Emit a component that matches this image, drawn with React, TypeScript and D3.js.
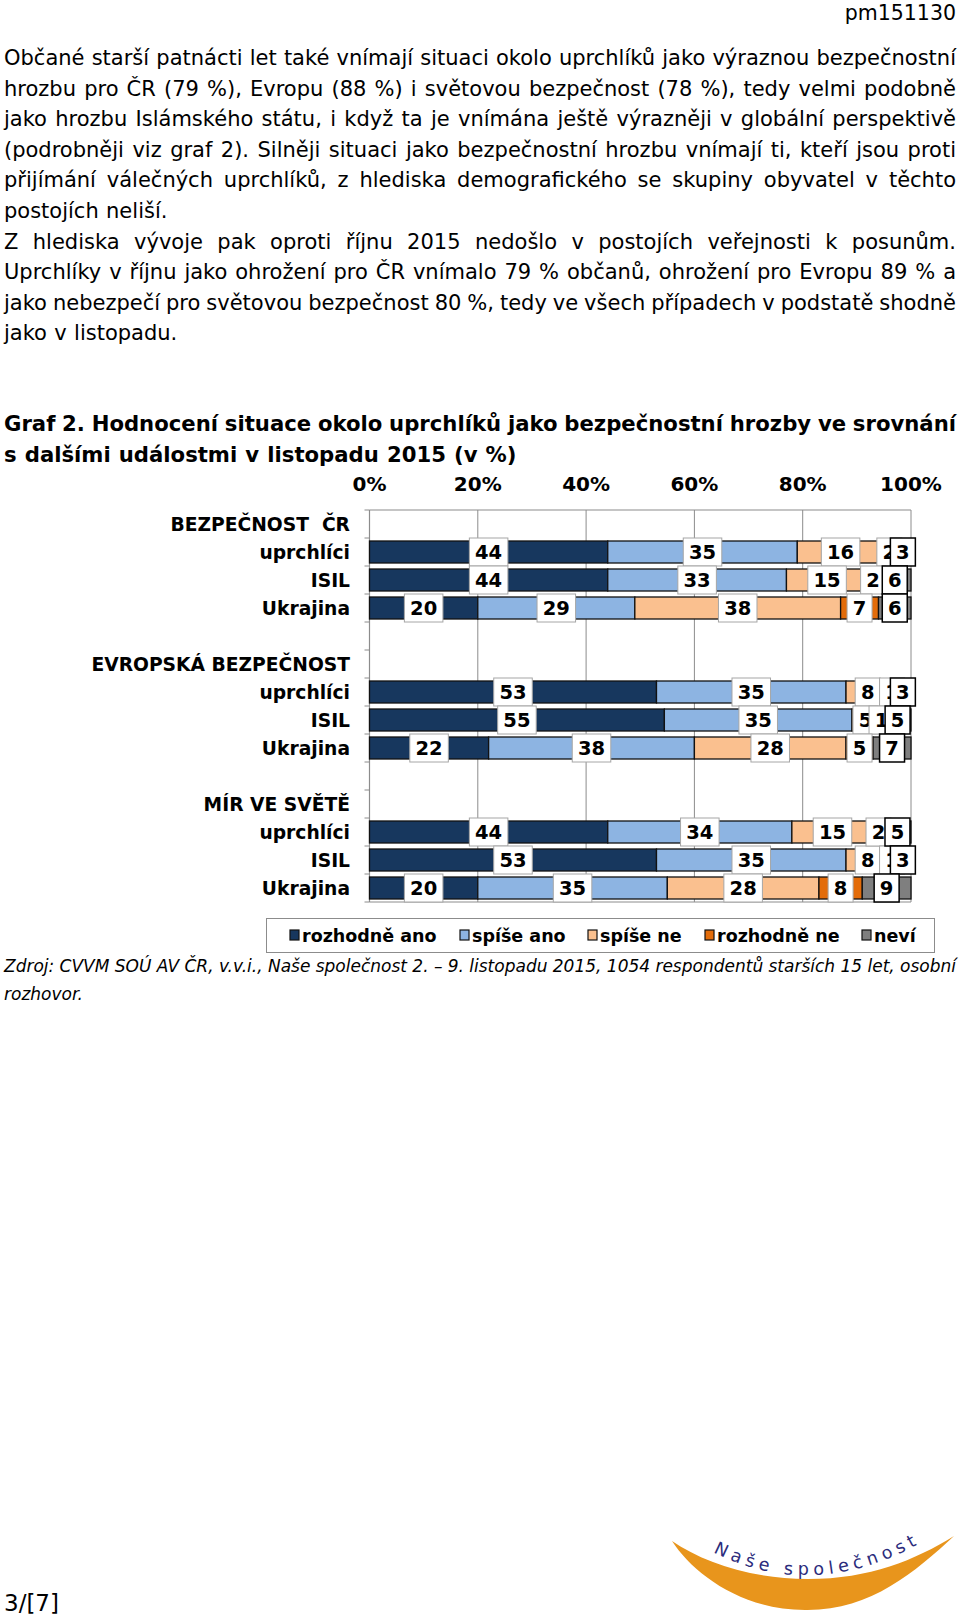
import React, { useMemo } from "react";
import * as d3 from "d3";

const W = 960;
const H = 1617;
const FONT = "'DejaVu Sans', Verdana, sans-serif";

const headerCode = "pm151130";
const paragraphLines = [
  "Občané starší patnácti let také vnímají situaci okolo uprchlíků jako výraznou bezpečnostní",
  "hrozbu pro ČR (79 %), Evropu (88 %) i světovou bezpečnost (78 %), tedy velmi podobně",
  "jako hrozbu Islámského státu, i když ta je vnímána ještě výrazněji v globální perspektivě",
  "(podrobněji viz graf 2). Silněji situaci jako bezpečnostní hrozbu vnímají ti, kteří jsou proti",
  "přijímání válečných uprchlíků, z hlediska demografického se skupiny obyvatel v těchto",
  "postojích neliší.",
  "Z hlediska vývoje pak oproti říjnu 2015 nedošlo v postojích veřejnosti k posunům.",
  "Uprchlíky v říjnu jako ohrožení pro ČR vnímalo 79 % občanů, ohrožení pro Evropu 89 % a",
  "jako nebezpečí pro světovou bezpečnost 80 %, tedy ve všech případech v podstatě shodně",
  "jako v listopadu.",
];
const paragraphJustify = [true, true, true, true, true, false, true, true, true, false];
const titleLines = [
  "Graf 2. Hodnocení situace okolo uprchlíků jako bezpečnostní hrozby ve srovnání",
  "s dalšími událostmi v listopadu 2015 (v %)",
];
const sourceLines = [
  "Zdroj: CVVM SOÚ AV ČR, v.v.i., Naše společnost 2. – 9. listopadu 2015, 1054 respondentů starších 15 let, osobní",
  "rozhovor.",
];
const pageNumber = "3/[7]";
const logoText = "Naše společnost";

const groups = ["BEZPEČNOST\u00A0\u00A0ČR", "EVROPSKÁ BEZPEČNOST", "MÍR VE SVĚTĚ"];
const items = ["uprchlíci", "ISIL", "Ukrajina"];
const seriesNames = ["rozhodně ano", "spíše ano", "spíše ne", "rozhodně ne", "neví"];
const seriesColors = ["#17375E", "#8DB4E2", "#FAC08F", "#E36C0A", "#7F7F7F"];

// order: BEZPEČNOST ČR (uprchlíci, ISIL, Ukrajina), EVROPSKÁ ..., MÍR VE SVĚTĚ ...
const rozhodneAno = [44, 44, 20, 53, 55, 22, 44, 53, 20];
const spiseAno = [35, 33, 29, 35, 35, 38, 34, 35, 35];
const spiseNe = [16, 15, 38, 8, 5, 28, 15, 8, 28];
const rozhodneNe = [2, 2, 7, 1, 1, 5, 2, 1, 8];
const nevi = [3, 6, 6, 3, 5, 7, 5, 3, 9];
const axisTicks = [0, 0.2, 0.4, 0.6, 0.8, 1];

let _ctx: CanvasRenderingContext2D | null = null;
function measure(text: string, font: string) {
  if (!_ctx) _ctx = document.createElement("canvas").getContext("2d");
  _ctx!.font = font;
  return _ctx!.measureText(text).width;
}

function JustLine({ text, x0, x1, y, size, weight = "normal", style = "normal", justify = true }: any) {
  const font = `${style} ${weight} ${size}px ${FONT}`;
  const words = text.split(" ");
  const widths = words.map((w: string) => measure(w, font));
  const total = d3.sum(widths);
  const spaceW = measure(" ", font) * 1.1;
  const gap = justify && words.length > 1 ? (x1 - x0 - total) / (words.length - 1) : spaceW;
  let cx = x0;
  const xs: number[] = [];
  widths.forEach((w: number) => {
    xs.push(cx);
    cx += w + gap;
  });
  return (
    <text y={y} fontSize={size} fontWeight={weight} fontStyle={style} fontFamily={FONT} fill="#000">
      {words.map((w: string, i: number) => (
        <tspan key={i} x={xs[i]}>
          {w}
        </tspan>
      ))}
    </text>
  );
}

export default function App() {
  const rows = useMemo(() => {
    const r: { id: string; label: string; header: boolean; dataIndex: number }[] = [];
    groups.forEach((g, gi) => {
      r.push({ id: `h${gi}`, label: g, header: true, dataIndex: -1 });
      items.forEach((it, ii) => r.push({ id: `r${gi}_${ii}`, label: it, header: false, dataIndex: gi * 3 + ii }));
      if (gi < groups.length - 1) r.push({ id: `s${gi}`, label: "", header: false, dataIndex: -1 });
    });
    return r;
  }, []);

  const x = d3.scaleLinear().domain([0, 1]).range([369.5, 911]);
  const y = d3.scaleBand<string>().domain(rows.map((r) => r.id)).range([510, 902]);
  const bw = y.bandwidth();
  const barH = 22;
  const boxH = 28;

  const table = rozhodneAno.map((_, i) => {
    const vals = [rozhodneAno[i], spiseAno[i], spiseNe[i], rozhodneNe[i], nevi[i]];
    const tot = d3.sum(vals);
    const o: any = { i, tot };
    seriesNames.forEach((s, k) => (o[s] = vals[k] / tot));
    o.raw = vals;
    return o;
  });
  const stacked = d3.stack<any>().keys(seriesNames)(table);
  const dataRows = rows.filter((r) => r.dataIndex >= 0);

  const labelFont = `bold 19.5px ${FONT}`;
  const gridColor = "#8C8C8C";

  const legendX = [290, 460, 588, 705, 862];

  return (
    <svg width={W} height={H} style={{ position: "absolute", left: 0, top: 0, background: "#fff" }} fontFamily={FONT}>
      <rect x={0} y={0} width={W} height={H} fill="#fff" />
      <text x={956} y={20} textAnchor="end" fontSize={20.5}>
        {headerCode}
      </text>
      {paragraphLines.map((t, i) => (
        <JustLine key={i} text={t} x0={4} x1={956} y={65 + i * 30.6} size={21} justify={paragraphJustify[i]} />
      ))}
      {titleLines.map((t, i) => (
        <JustLine key={i} text={t} x0={4} x1={956} y={431 + i * 30.5} size={21.2} weight="bold" justify={i === 0} />
      ))}

      {axisTicks.map((t) => (
        <text key={t} x={x(t)} y={491} textAnchor="middle" fontWeight="bold" fontSize={20}>
          {d3.format(".0%")(t)}
        </text>
      ))}

      {axisTicks.slice(1).map((t) => (
        <line key={t} x1={x(t)} x2={x(t)} y1={510} y2={902} stroke={gridColor} strokeWidth={1} />
      ))}
      <line x1={x(0)} x2={x(1)} y1={510} y2={510} stroke={gridColor} strokeWidth={1.2} />
      <line x1={x(0)} x2={x(1)} y1={902} y2={902} stroke={gridColor} strokeWidth={1} />
      <line x1={x(0)} x2={x(0)} y1={510} y2={902} stroke={gridColor} strokeWidth={1.2} />
      {rows.map((r) => (
        <line key={r.id} x1={x(0) - 5} x2={x(0)} y1={y(r.id)!} y2={y(r.id)!} stroke={gridColor} strokeWidth={1} />
      ))}
      <line x1={x(0) - 5} x2={x(0)} y1={902} y2={902} stroke={gridColor} strokeWidth={1} />

      {rows.map((r) =>
        r.label ? (
          <text key={r.id} x={350} y={y(r.id)! + bw / 2} dy="0.36em" textAnchor="end" fontWeight="bold" fontSize={18.7}>
            {r.label}
          </text>
        ) : null
      )}

      {stacked.map((s, k) => (
        <g key={s.key}>
          {s.map((d: any, i: number) => {
            const row = dataRows[i];
            return (
              <rect
                key={i}
                x={x(d[0])}
                y={y(row.id)! + (bw - barH) / 2}
                width={Math.max(0, x(d[1]) - x(d[0]))}
                height={barH}
                fill={seriesColors[k]}
                stroke="#111"
                strokeWidth={1.3}
              />
            );
          })}
        </g>
      ))}

      {stacked.map((s, k) => (
        <g key={s.key}>
          {s.map((d: any, i: number) => {
            const row = dataRows[i];
            const v = String(table[i].raw[k]);
            const cx = x((d[0] + d[1]) / 2);
            const cy = y(row.id)! + bw / 2;
            const w = measure(v, labelFont) + 11.4;
            return (
              <g key={i}>
                <rect
                  x={cx - w / 2}
                  y={cy - boxH / 2}
                  width={w}
                  height={boxH}
                  fill="#fff"
                  stroke={k === 4 ? "#000" : "#A6A6A6"}
                  strokeWidth={k === 4 ? 1.5 : 1}
                />
                <text x={cx} y={cy} dy="0.36em" textAnchor="middle" fontWeight="bold" fontSize={19.5}>
                  {v}
                </text>
              </g>
            );
          })}
        </g>
      ))}

      <rect x={266.5} y={918.5} width={668} height={34} fill="#fff" stroke="#8C8C8C" strokeWidth={1} />
      {seriesNames.map((s, k) => (
        <g key={s}>
          <rect x={legendX[k]} y={930} width={9} height={10} fill={seriesColors[k]} stroke="#111" strokeWidth={1.2} />
          <text x={legendX[k] + 12} y={942} fontWeight="bold" fontSize={17.5}>
            {s}
          </text>
        </g>
      ))}

      {sourceLines.map((t, i) => (
        <JustLine key={i} text={t} x0={4} x1={956} y={972 + i * 28} size={17} style="italic" justify={i === 0} />
      ))}

      <text x={4} y={1611} fontSize={23}>
        {pageNumber}
      </text>

      <path
        d="M672,1541 C692,1572 740,1610 805,1610 C870,1611 915,1572 954,1536 C915,1560 870,1579 808,1579 C750,1579 703,1562 672,1541 Z"
        fill="#E8951C"
      />
      <path id="logoCurve" d="M713,1552 Q814,1604 926,1540" fill="none" />
      <text fontSize={17.5} fill="#2B2C7C" letterSpacing={5}>
        <textPath href="#logoCurve">{logoText}</textPath>
      </text>
    </svg>
  );
}
